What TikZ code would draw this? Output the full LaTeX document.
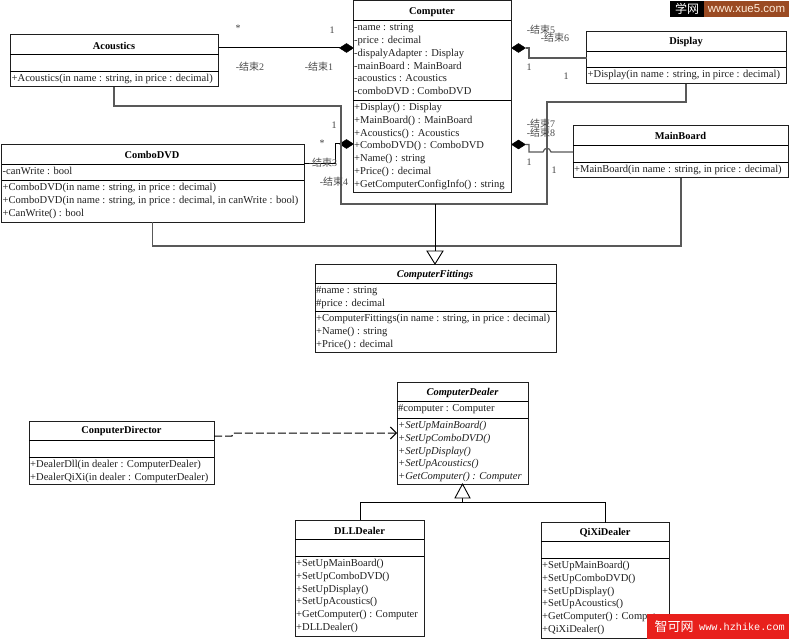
\documentclass[tikz,border=0pt]{standalone}
\usepackage{fontspec}
\setmainfont{Liberation Serif}
\newfontfamily\cjk{Noto Sans CJK SC}
\newfontfamily\wmsans{Liberation Sans}
\newfontfamily\wmmono{Liberation Mono}
\usetikzlibrary{arrows.meta,shapes.geometric}
\definecolor{inkc}{gray}{0.12}
\definecolor{linkgray}{gray}{0.35}
\definecolor{wmbrown}{HTML}{9A4A22}
\definecolor{wmred}{HTML}{E8201C}
\tikzset{
  classbox/.style={draw=inkc,line width=1pt,inner sep=0pt,outer sep=0pt,fill=white},
  divider/.style={draw=black,line width=0.9pt},
  titletext/.style={font=\fontsize{10.4}{12}\selectfont\bfseries,text=black,inner sep=0pt,yshift=-1.2pt},
  abstitle/.style={titletext,font=\fontsize{10.4}{12}\selectfont\bfseries\itshape},
  memb/.style={anchor=north west,align=left,inner sep=0pt,text=inkc,yshift=-2.2pt,font=\fontsize{10.55}{12.75}\selectfont},
  absmemb/.style={memb,font=\fontsize{10.55}{12.75}\selectfont\itshape},
  endlabel/.style={inner sep=0pt,text=black!70,font=\fontsize{10}{10}\selectfont},
  multlabel/.style={inner sep=0pt,text=black!75,font=\fontsize{10}{10}\selectfont},
  aggr/.style={diamond,aspect=1.7,fill=black,draw=black,inner sep=0pt,minimum width=14pt,minimum height=9pt,outer sep=0pt},
  linkline/.style={draw=linkgray,line width=1.2pt},
  darkline/.style={draw=black,line width=1pt},
  hollowtip/.style={draw=black,line width=0.9pt,fill=white},
  dep/.style={draw=black,line width=1pt,dash pattern=on 8pt off 3pt,-{Straight Barb[length=6pt,width=12pt]}},
}
% name, left, top, right, bottom, divider 1, divider 2
\newcommand{\umlclass}[7]{%
  \node[classbox,anchor=north west,minimum width=#4pt-#2pt,minimum height=#5pt-#3pt] (#1) at (#2,#3) {};
  \draw[divider] (#2,#6) -- (#4,#6);
  \draw[divider] (#2,#7) -- (#4,#7);
}
\begin{document}
\begin{tikzpicture}[x=1pt,y=-1pt]
\useasboundingbox (0,0) rectangle (789,639);
\fill[white] (0,0) rectangle (789,639);

% connector ends
\node[aggr] (dAcou) at (346.5,48) {};
\node[aggr] (dDisp) at (518.5,48) {};
\node[aggr] (dMain) at (518.5,144.5) {};
\node[aggr] (dDvd) at (346.5,144) {};

\coordinate (genTop) at (435,251);
\coordinate (genJoin) at (435,204);
\coordinate (dealTop) at (462.5,498);
\coordinate (dealJoin) at (462.5,502);

\umlclass{computer}{353}{1}{511}{192}{20}{100}
\umlclass{display}{586.5}{32}{786}{84}{51}{67}
\umlclass{mainboard}{573}{126}{788}{178}{145}{162}
\umlclass{acoustics}{10}{35}{218.5}{87}{54}{71}
\umlclass{combodvd}{1.5}{145}{304}{222}{164}{180}
\umlclass{fittings}{315}{264}{556}{352}{283}{311}
\umlclass{dealer}{397}{382}{528}{484}{401}{418}
\umlclass{director}{29}{421}{214}{484}{440}{457}
\umlclass{dll}{295}{520}{424}{636}{539}{556}
\umlclass{qixi}{541}{522.5}{669}{638}{541}{558}

\draw[darkline] (dAcou.west) -- (acoustics.east |- dAcou.west);
\draw[linkline] (dDisp.east) -- (529,48) -- (529,58) -- (display.west |- 0,58);
\draw[linkline] (dMain.east) -- (529,144.5) -- (529,152) -- (543,152)
   .. controls (544.5,147) and (549.5,147) .. (551,152) -- (mainboard.west |- 0,152);
\draw[darkline] (dDvd.west) -- (335,144) -- (335,164) -- (combodvd.east |- 0,164);

\draw[linkline] (114,87) -- (114,106) -- (341,106) -- (341,204) -- (genJoin);
\draw[linkline] (686,84) -- (686,102) -- (547,102) -- (547,204) -- (genJoin);
\draw[linkline] (681,178) -- (681,246) -- (152.5,246) -- (152.5,222);
\draw[darkline] (genJoin) -- (genTop);
\draw[hollowtip] (427,251) -- (443,251) -- (fittings.north -| genTop) -- cycle;

\draw[darkline] (dealTop) -- (dealJoin);
\draw[darkline] (dll.north -| 360,0) -- (360,502) -- (605,502) -- (qixi.north -| 605,0);
\draw[hollowtip] (455,498) -- (470,498) -- (dealer.south -| dealTop) -- cycle;

\draw[dep] (director.east |- 0,436) -- (232,436) -- (233,433) -- (dealer.west |- 0,433);

% class texts
\node[titletext] (tComputer) at (432,10.5) {Computer};
\node[memb] (aComputer) at (354,21.5) {-name : string\\-price : decimal\\-dispalyAdapter : Display\\-mainBoard : MainBoard\\-acoustics : Acoustics\\-comboDVD : ComboDVD};
\node[memb] (oComputer) at (354,101) {+Display() : Display\\+MainBoard() : MainBoard\\+Acoustics() : Acoustics\\+ComboDVD() : ComboDVD\\+Name() : string\\+Price() : decimal\\+GetComputerConfigInfo() : string};

\node[titletext] (tDisplay) at (686,41) {Display};
\node[memb] (oDisplay) at (587.5,68) {+Display(in name : string, in pirce : decimal)};

\node[titletext] (tMain) at (680.5,135) {MainBoard};
\node[memb] (oMain) at (574,163) {+MainBoard(in name : string, in price : decimal)};

\node[titletext] (tAcou) at (114,44.5) {Acoustics};
\node[memb] (oAcou) at (11.5,72) {+Acoustics(in name : string, in price : decimal)};

\node[titletext] (tDvd) at (152,154) {ComboDVD};
\node[memb] (aDvd) at (2.5,165) {-canWrite : bool};
\node[memb] (oDvd) at (2.5,181) {+ComboDVD(in name : string, in price : decimal)\\+ComboDVD(in name : string, in price : decimal, in canWrite : bool)\\+CanWrite() : bool};

\node[abstitle] (tFit) at (435,273.5) {ComputerFittings};
\node[memb] (aFit) at (316,284) {\#name : string\\\#price : decimal};
\node[memb] (oFit) at (316,312) {+ComputerFittings(in name : string, in price : decimal)\\+Name() : string\\+Price() : decimal};

\node[abstitle] (tDealer) at (462.5,391.5) {ComputerDealer};
\node[memb] (aDealer) at (398,402) {\#computer : Computer};
\node[absmemb] (oDealer) at (398,419) {+SetUpMainBoard()\\+SetUpComboDVD()\\+SetUpDisplay()\\+SetUpAcoustics()\\+GetComputer() : Computer};

\node[titletext] (tDirector) at (121.5,430) {ConputerDirector};
\node[memb] (oDirector) at (30,458) {+DealerDll(in dealer : ComputerDealer)\\+DealerQiXi(in dealer : ComputerDealer)};

\node[titletext] (tDll) at (359.5,529.5) {DLLDealer};
\node[memb] (oDll) at (296,557) {+SetUpMainBoard()\\+SetUpComboDVD()\\+SetUpDisplay()\\+SetUpAcoustics()\\+GetComputer() : Computer\\+DLLDealer()};

\node[titletext] (tQixi) at (605,531.5) {QiXiDealer};
\node[memb] (oQixi) at (542,559) {+SetUpMainBoard()\\+SetUpComboDVD()\\+SetUpDisplay()\\+SetUpAcoustics()\\+GetComputer() : Computer\\+QiXiDealer()};

% association end labels
\node[multlabel] (m1) at (238,28) {*};
\node[multlabel] (m2) at (332,30) {1};
\node[endlabel] (e2) at (250,67) {-{\cjk 结束}2};
\node[endlabel] (e1) at (319,67) {-{\cjk 结束}1};
\node[multlabel] (m3) at (334,125) {1};
\node[multlabel] (m4) at (322,143) {*};
\node[endlabel] (e3) at (323,163) {-{\cjk 结束}3};
\node[endlabel] (e4) at (334,182) {-{\cjk 结束}4};
\node[endlabel] (e5) at (541,30) {-{\cjk 结束}5};
\node[endlabel] (e6) at (555,38) {-{\cjk 结束}6};
\node[multlabel] (m5) at (529,67) {1};
\node[multlabel] (m6) at (566,76) {1};
\node[endlabel] (e7) at (541,124) {-{\cjk 结束}7};
\node[endlabel] (e8) at (541,133) {-{\cjk 结束}8};
\node[multlabel] (m7) at (529,162) {1};
\node[multlabel] (m8) at (554,170) {1};

% watermarks
\fill[black] (670,1) rectangle (704,17);
\fill[wmbrown] (704,1) rectangle (789,17);
\node[inner sep=0pt,text=white,font=\cjk\fontsize{12}{12}\selectfont] (wm1) at (687,9) {学网};
\node[inner sep=0pt,text=white!85!orange,font=\wmsans\fontsize{11.5}{12}\selectfont] (wm2) at (746.5,9) {www.xue5.com};
\fill[wmred] (647,614) rectangle (789,639);
\node[inner sep=0pt,text=white,font=\cjk\fontsize{13}{13}\selectfont] (wm3) at (674,627) {智可网};
\node[inner sep=0pt,text=white,font=\wmmono\fontsize{10.2}{10}\selectfont] (wm4) at (742,627) {www.hzhike.com};
\end{tikzpicture}
\end{document}
